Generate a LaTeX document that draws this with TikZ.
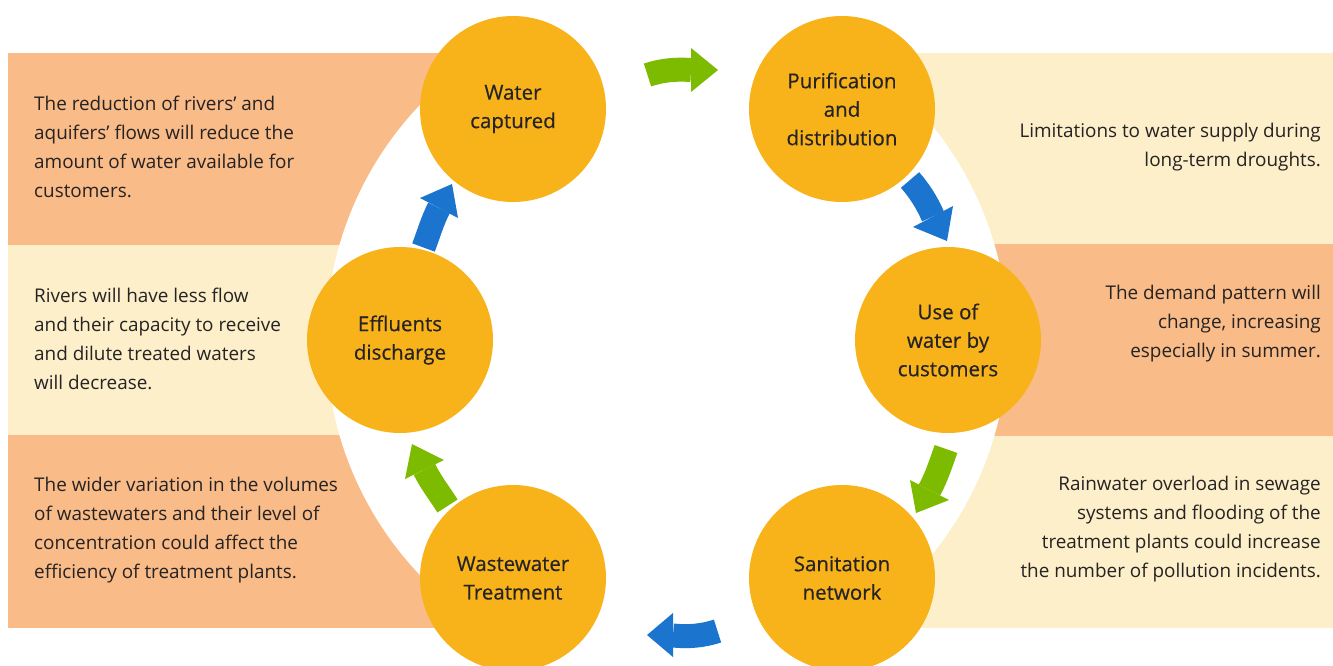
\documentclass[tikz,border=0pt]{standalone}
\usepackage{fontspec}
\setmainfont{Open Sans}
\newfontfamily\labfont{Open Sans}[FakeBold=0.5]
\definecolor{bandO}{HTML}{F9BB87}
\definecolor{bandY}{HTML}{FDEFC9}
\definecolor{circ}{HTML}{F9B31A}
\definecolor{arrB}{HTML}{1B75CE}
\definecolor{arrG}{HTML}{7DBB00}
\definecolor{txt}{HTML}{262324}
\newcommand\cyclearrow[8]{%
  \draw[line width=24pt,#1] (#2) .. controls (#3) and (#4) .. (#5);
  \fill[#1] (#6) -- (#8) -- (#7) -- cycle;}
\begin{document}
\begin{tikzpicture}[x=1pt,y=-1pt,
  stage/.style={circle, fill=circ, minimum size=186pt, inner sep=0pt, align=center,
    font=\labfont\fontsize{20.5}{28.5}\selectfont, text=txt},
  bodyL/.style={anchor=west, align=left, inner sep=0pt,
    font=\fontsize{18.9}{29}\selectfont, text=txt},
  bodyR/.style={anchor=east, align=right, inner sep=0pt,
    font=\fontsize{18.9}{29}\selectfont, text=txt}]
\useasboundingbox (0,0) rectangle (1333,665);
\fill[white] (0,0) rectangle (1333,665);
% bands
\fill[bandO] (8,53) rectangle (667,245);
\fill[bandY] (8,245) rectangle (667,435);
\fill[bandO] (8,435) rectangle (667,628);
\fill[bandY] (667,53) rectangle (1333,244);
\fill[bandO] (667,244) rectangle (1333,436);
\fill[bandY] (667,436) rectangle (1333,628);
% hub
\node[circle, fill=white, minimum size=682pt, inner sep=0pt] (hub) at (667,340) {};
% arrows
\coordinate (a1t) at (647.5,75);  \coordinate (a1b) at (691,70);  \coordinate (a1p) at (718,70);
\coordinate (a1l) at (691,48);    \coordinate (a1r) at (691,92);
\cyclearrow{arrG}{a1t}{662.5,70}{676,69}{a1b}{a1l}{a1r}{a1p}
\coordinate (a2t) at (910,180);   \coordinate (a2b) at (933,216.5); \coordinate (a2p) at (947,241);
\coordinate (a2l) at (913,227);   \coordinate (a2r) at (953,206);
\cyclearrow{arrB}{a2t}{918,189}{927,202}{a2b}{a2l}{a2r}{a2p}
\coordinate (a3t) at (946,449);   \coordinate (a3b) at (929.5,490); \coordinate (a3p) at (916,513);
\coordinate (a3l) at (910,480);   \coordinate (a3r) at (949,500);
\cyclearrow{arrG}{a3t}{941,463}{936.5,477}{a3b}{a3l}{a3r}{a3p}
\coordinate (a4t) at (717.5,631); \coordinate (a4b) at (673,635.5); \coordinate (a4p) at (647,635);
\coordinate (a4l) at (673,613);   \coordinate (a4r) at (673,657);
\cyclearrow{arrB}{a4t}{702.5,636}{688,637}{a4b}{a4l}{a4r}{a4p}
\coordinate (a5t) at (447.5,506); \coordinate (a5b) at (424.5,469.5); \coordinate (a5p) at (412,444);
\coordinate (a5l) at (405,479);   \coordinate (a5r) at (444,460);
\cyclearrow{arrG}{a5t}{440,494}{430.5,482}{a5b}{a5l}{a5r}{a5p}
\coordinate (a6t) at (423.5,247.5); \coordinate (a6b) at (439,208); \coordinate (a6p) at (452,184);
\coordinate (a6l) at (420,198);   \coordinate (a6r) at (458,218);
\cyclearrow{arrB}{a6t}{428.5,234.5}{432.5,220.3}{a6b}{a6l}{a6r}{a6p}
% stages
\node[stage] (wc) at (513,109) {Water\\captured};
\node[stage] (pd) at (842,109) {Purification\\and\\distribution};
\node[stage] (uw) at (948,340) {Use of\\water by\\customers};
\node[stage] (sn) at (842,578) {Sanitation\\network};
\node[stage] (wt) at (513,578) {Wastewater\\Treatment};
\node[stage] (ed) at (400,340) {Effluents\\discharge};
% texts
\node[bodyL] (t1) at (34,146.5) {The reduction of rivers’ and\\aquifers’ flows will reduce the\\amount of water available for\\customers.};
\node[bodyL] (t2) at (34,338.5) {Rivers will have less flow\\and their capacity to receive\\and dilute treated waters\\will decrease.};
\node[bodyL] (t3) at (34,530) {The wider variation in the volumes\\of wastewaters and their level of\\concentration could affect the\\efficiency of treatment plants.};
\node[bodyR] (t4) at (1321,147.5) {Limitations to water supply during\\long-term droughts.};
\node[bodyR] (t5) at (1321,324) {The demand pattern will\\change, increasing\\especially in summer.};
\node[bodyR] (t6) at (1321,529.5) {Rainwater overload in sewage\\systems and flooding of the\\treatment plants could increase\\the number of pollution incidents.};
\end{tikzpicture}
\end{document}
